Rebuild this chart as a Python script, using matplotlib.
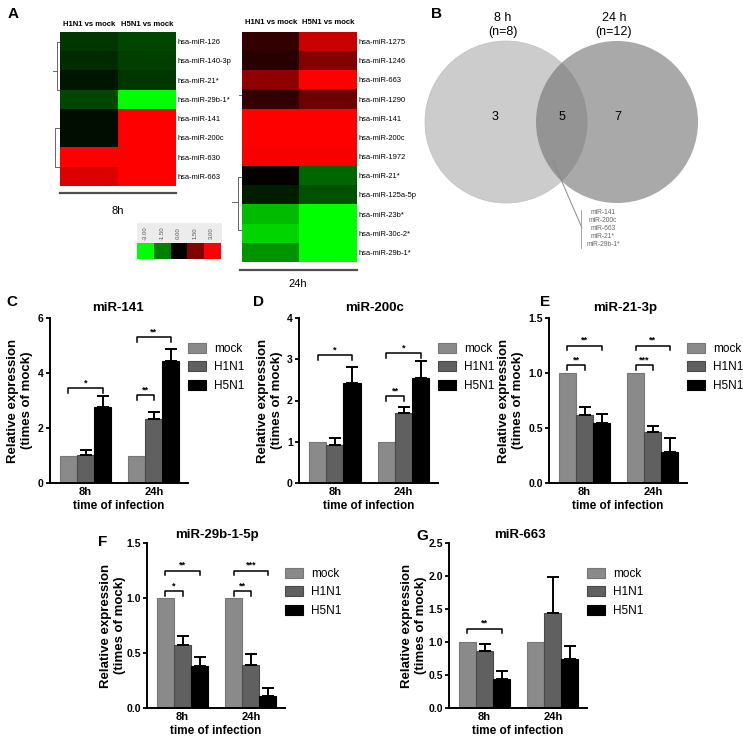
import matplotlib
matplotlib.use('Agg')
import matplotlib.pyplot as plt
import numpy as np
from matplotlib.colors import LinearSegmentedColormap
from matplotlib.patches import Circle, Patch, Rectangle

plt.rcParams['font.family'] = ['Liberation Sans', 'DejaVu Sans']

W, H = 743, 742
fig = plt.figure(figsize=(W / 100, H / 100), dpi=100)


def axpx(x0, y0, x1, y1, **kw):
    return fig.add_axes([x0 / W, 1 - y1 / H, (x1 - x0) / W, (y1 - y0) / H], **kw)


# ---------------- data ----------------
heat_cols = ['H1N1 vs mock', 'H5N1 vs mock']
heat8_rows = ['hsa-miR-126', 'hsa-miR-140-3p', 'hsa-miR-21*', 'hsa-miR-29b-1*',
              'hsa-miR-141', 'hsa-miR-200c', 'hsa-miR-630', 'hsa-miR-663']
heat8_h1n1 = [-0.65, -0.5, -0.25, -0.8, -0.15, -0.15, 3.0, 2.6]
heat8_h5n1 = [-0.8, -0.75, -0.65, -3.0, 3.0, 3.0, 3.0, 3.0]

heat24_rows = ['hsa-miR-1275', 'hsa-miR-1246', 'hsa-miR-663', 'hsa-miR-1290',
               'hsa-miR-141', 'hsa-miR-200c', 'hsa-miR-1972', 'hsa-miR-21*',
               'hsa-miR-125a-5p', 'hsa-miR-23b*', 'hsa-miR-30c-2*', 'hsa-miR-29b-1*']
heat24_h1n1 = [0.6, 0.47, 1.7, 0.6, 3.0, 3.0, 2.9, 0.05, -0.35, -2.2, -2.5, -1.75]
heat24_h5n1 = [2.35, 1.5, 3.0, 1.3, 3.0, 3.0, 2.9, -1.2, -0.95, -3.0, -3.0, -3.0]

cbar_ticks = [-3.0, -1.5, 0.0, 1.5, 3.0]
cbar_labels = ['-3.00', '-1.50', '0.00', '1.50', '3.00']

venn_sets = ['8 h\n(n=8)', '24 h\n(n=12)']
venn_counts = [3, 5, 7]
venn_shared = ['miR-141', 'miR-200c', 'miR-663', 'miR-21*', 'miR-29b-1*']

groups = ['8h', '24h']
series = ['mock', 'H1N1', 'H5N1']

# miR-141
c_mock = [1.0, 1.0]
c_h1n1 = [1.02, 2.33]
c_h5n1 = [2.78, 4.42]
c_h1n1_err = [0.18, 0.25]
c_h5n1_err = [0.40, 0.46]
c_sig = [(0, 0, 2, 3.45, '*'), (1, 0, 1, 3.2, '**'), (1, 0, 2, 5.3, '**')]

# miR-200c
d_mock = [1.0, 1.0]
d_h1n1 = [0.93, 1.70]
d_h5n1 = [2.43, 2.54]
d_h1n1_err = [0.16, 0.14]
d_h5n1_err = [0.39, 0.42]
d_sig = [(0, 0, 2, 3.1, '*'), (1, 0, 1, 2.1, '**'), (1, 0, 2, 3.15, '*')]

# miR-21-3p
e_mock = [1.0, 1.0]
e_h1n1 = [0.615, 0.465]
e_h5n1 = [0.55, 0.28]
e_h1n1_err = [0.075, 0.05]
e_h5n1_err = [0.08, 0.125]
e_sig = [(0, 0, 2, 1.25, '**'), (0, 0, 1, 1.07, '**'),
         (1, 0, 2, 1.25, '**'), (1, 0, 1, 1.07, '***')]

# miR-29b-1-5p
f_mock = [1.0, 1.0]
f_h1n1 = [0.575, 0.395]
f_h5n1 = [0.385, 0.11]
f_h1n1_err = [0.08, 0.095]
f_h5n1_err = [0.08, 0.07]
f_sig = [(0, 0, 2, 1.25, '**'), (0, 0, 1, 1.06, '*'),
         (1, 0, 2, 1.25, '***'), (1, 0, 1, 1.06, '**')]

# miR-663
g_mock = [1.0, 1.0]
g_h1n1 = [0.87, 1.44]
g_h5n1 = [0.44, 0.75]
g_h1n1_err = [0.10, 0.54]
g_h5n1_err = [0.12, 0.19]
g_sig = [(0, 0, 2, 1.2, '**')]

# ---------------- overlay (pixel coordinates) ----------------
ov = fig.add_axes([0, 0, 1, 1], zorder=0)
ov.set_xlim(0, W)
ov.set_ylim(H, 0)
ov.axis('off')

cmap = LinearSegmentedColormap.from_list('gbr', [(0, 1, 0), (0, 0, 0), (1, 0, 0)])

# ---------------- heatmaps ----------------
def heatmap(x0, y0, x1, y1, rows, v1, v2, hdr_y):
    ax = axpx(x0, y0, x1, y1)
    data = np.array([v1, v2]).T
    ax.imshow(data, cmap=cmap, vmin=-3, vmax=3, aspect='auto', interpolation='nearest')
    ax.set_xticks([])
    ax.set_yticks(range(len(rows)))
    ax.set_yticklabels(rows, fontsize=5.4)
    ax.yaxis.tick_right()
    ax.tick_params(axis='y', length=0, pad=1)
    for s in ax.spines.values():
        s.set_visible(False)
    cw = (x1 - x0) / 2
    for i, c in enumerate(heat_cols):
        ov.text(x0 + cw * (i + 0.5), hdr_y, c, ha='center', va='center',
                fontsize=5.6, fontweight='bold')
    return ax

heatmap(60, 32, 176, 186, heat8_rows, heat8_h1n1, heat8_h5n1, 24)
heatmap(242, 32, 357, 262, heat24_rows, heat24_h1n1, heat24_h5n1, 23)

ov.plot([60, 176], [193, 193], color='#505050', lw=1.6)
ov.text(118, 211, '8h', ha='center', va='center', fontsize=8)
ov.plot([240, 357], [270, 270], color='#505050', lw=1.6)
ov.text(298, 284, '24h', ha='center', va='center', fontsize=8)

# dendrograms
dc = '#666666'
ov.plot([60, 57, 57, 60], [42, 42, 90, 90], color=dc, lw=0.7)
ov.plot([53, 57], [71, 71], color=dc, lw=0.7)
ov.plot([60, 55, 55, 60], [128, 128, 167, 167], color=dc, lw=0.7)
ov.plot([239, 243], [95, 95], color=dc, lw=0.7)
ov.plot([242, 238, 238, 242], [177, 177, 230, 230], color=dc, lw=0.7)
ov.plot([232, 238], [202, 202], color=dc, lw=0.7)

# colour key
ov.add_patch(Rectangle((137, 223), 85, 20, fc='#ececec', ec='none'))
cax = axpx(137, 243, 220, 259)
cax.imshow(np.array([cbar_ticks]), cmap=cmap, vmin=-3, vmax=3, aspect='auto')
cax.set_xticks([])
cax.set_yticks([])
for s in cax.spines.values():
    s.set_visible(False)
bw = (220 - 137) / len(cbar_labels)
for i, lab in enumerate(cbar_labels):
    ov.text(137 + bw * (i + 0.5), 233, lab, rotation=90, ha='center', va='center',
            fontsize=4.3, color='#555555')

# ---------------- Venn ----------------
ov.add_patch(Circle((506, 122), 81, fc=(0.80, 0.80, 0.80), ec=(0.75, 0.75, 0.75), lw=0.5))
ov.add_patch(Circle((617, 122), 81, fc=(0.44, 0.44, 0.44), alpha=0.6, ec='none'))
ov.text(503, 25, venn_sets[0], ha='center', va='center', fontsize=9, linespacing=1.3)
ov.text(614, 25, venn_sets[1], ha='center', va='center', fontsize=9, linespacing=1.3)
for xx, cnt in zip([495, 562, 618], venn_counts):
    ov.text(xx, 117, str(cnt), ha='center', va='center', fontsize=9)
ov.plot([553, 582], [161, 228], color='#8a8a8a', lw=0.7)
ov.plot([581, 581], [210, 248], color='#9a9a9a', lw=0.6)
for k, nm in enumerate(venn_shared):
    ov.text(603, 213 + 8 * k, nm, ha='center', va='center', fontsize=4.8, color='#666666')

# ---------------- bar panels ----------------
bar_colors = ['#8a8a8a', '#606060', '#000000']
edge_colors = ['#777777', '#4a4a4a', '#000000']
offsets = [-0.25, 0.0, 0.25]
bw_bar = 0.25


def bar_panel(x0, y0, x1, y1, title, title_xy, mock, h1, h5, h1e, h5e, sig,
              ymax, yticks, ylabels, ylab_x, leg_y):
    ax = axpx(x0, y0, x1, y1, zorder=2)
    ax.patch.set_alpha(0)
    x = np.arange(len(groups))
    vals = [mock, h1, h5]
    errs = [None, h1e, h5e]
    for i in range(3):
        ax.bar(x + offsets[i], vals[i], width=bw_bar, color=bar_colors[i],
               edgecolor=edge_colors[i], linewidth=0.8, label=series[i], zorder=2)
        if errs[i] is not None:
            ax.errorbar(x + offsets[i], vals[i], yerr=[np.zeros(len(x)), errs[i]],
                        fmt='none', ecolor='black', elinewidth=1.4, capsize=4,
                        capthick=1.4, zorder=3)
    tick = ymax * 0.028
    for g, a, b, h, lab in sig:
        xa, xb = g + offsets[a], g + offsets[b]
        ax.plot([xa, xa, xb, xb], [h - tick, h, h, h - tick], color='black', lw=1.1,
                zorder=4)
        ax.text((xa + xb) / 2, h + ymax * 0.005, lab, ha='center', va='bottom',
                fontsize=6.5, fontweight='bold')
    ax.set_xlim(-0.52, 1.5)
    ax.set_ylim(0, ymax)
    ax.set_yticks(yticks)
    ax.set_yticklabels(ylabels, fontsize=7.5, fontweight='bold')
    ax.set_xticks(x)
    ax.set_xticklabels(groups, fontsize=8, fontweight='bold')
    ax.tick_params(axis='x', length=0, pad=3)
    ax.tick_params(axis='y', length=3, width=1.3, pad=1.5)
    ax.spines['top'].set_visible(False)
    ax.spines['right'].set_visible(False)
    for s in ['left', 'bottom']:
        ax.spines[s].set_linewidth(1.4)
    ax.set_xlabel('time of infection', fontsize=8.5, fontweight='bold', labelpad=2)
    ov.text(title_xy[0], title_xy[1], title, ha='center', va='center', fontsize=9.5,
            fontweight='bold')
    ov.text(ylab_x, (y0 + y1) / 2, 'Relative expression\n(times of mock)', rotation=90,
            ha='center', va='center', fontsize=9.5, fontweight='bold', linespacing=1.3)
    handles = [Patch(fc=bar_colors[i], ec=edge_colors[i], lw=0.8) for i in range(3)]
    ax.legend(handles, series, loc='upper left', bbox_to_anchor=(1.0, leg_y),
              frameon=False, fontsize=8.5, handlelength=1.5, handleheight=0.9,
              handletextpad=0.7, labelspacing=0.55, borderpad=0, borderaxespad=0)
    return ax


bar_panel(50, 318, 188, 483, 'miR-141', (118, 308), c_mock, c_h1n1, c_h5n1,
          c_h1n1_err, c_h5n1_err, c_sig, 6, [0, 2, 4, 6], ['0', '2', '4', '6'], 20, 0.85)
bar_panel(299, 318, 438, 483, 'miR-200c', (375, 308), d_mock, d_h1n1, d_h5n1,
          d_h1n1_err, d_h5n1_err, d_sig, 4, [0, 1, 2, 3, 4], ['0', '1', '2', '3', '4'],
          270, 0.85)
bar_panel(549, 318, 687, 483, 'miR-21-3p', (625, 308), e_mock, e_h1n1, e_h5n1,
          e_h1n1_err, e_h5n1_err, e_sig, 1.5, [0, 0.5, 1.0, 1.5],
          ['0.0', '0.5', '1.0', '1.5'], 511, 0.85)
bar_panel(147, 543, 285, 708, 'miR-29b-1-5p', (217, 535), f_mock, f_h1n1, f_h5n1,
          f_h1n1_err, f_h5n1_err, f_sig, 1.5, [0, 0.5, 1.0, 1.5],
          ['0.0', '0.5', '1.0', '1.5'], 113, 0.85)
bar_panel(449, 543, 587, 708, 'miR-663', (520, 535), g_mock, g_h1n1, g_h5n1,
          g_h1n1_err, g_h5n1_err, g_sig, 2.5, [0, 0.5, 1.0, 1.5, 2.0, 2.5],
          ['0.0', '0.5', '1.0', '1.5', '2.0', '2.5'], 414, 0.85)

# panel letters
for lab, xx, yy in [('A', 13, 14), ('B', 437, 14), ('C', 12, 302), ('D', 258, 302),
                    ('E', 545, 302), ('F', 103, 542), ('G', 422, 536)]:
    ov.text(xx, yy, lab, ha='center', va='center', fontsize=11, fontweight='bold')

fig.savefig('out.png', dpi=100)
